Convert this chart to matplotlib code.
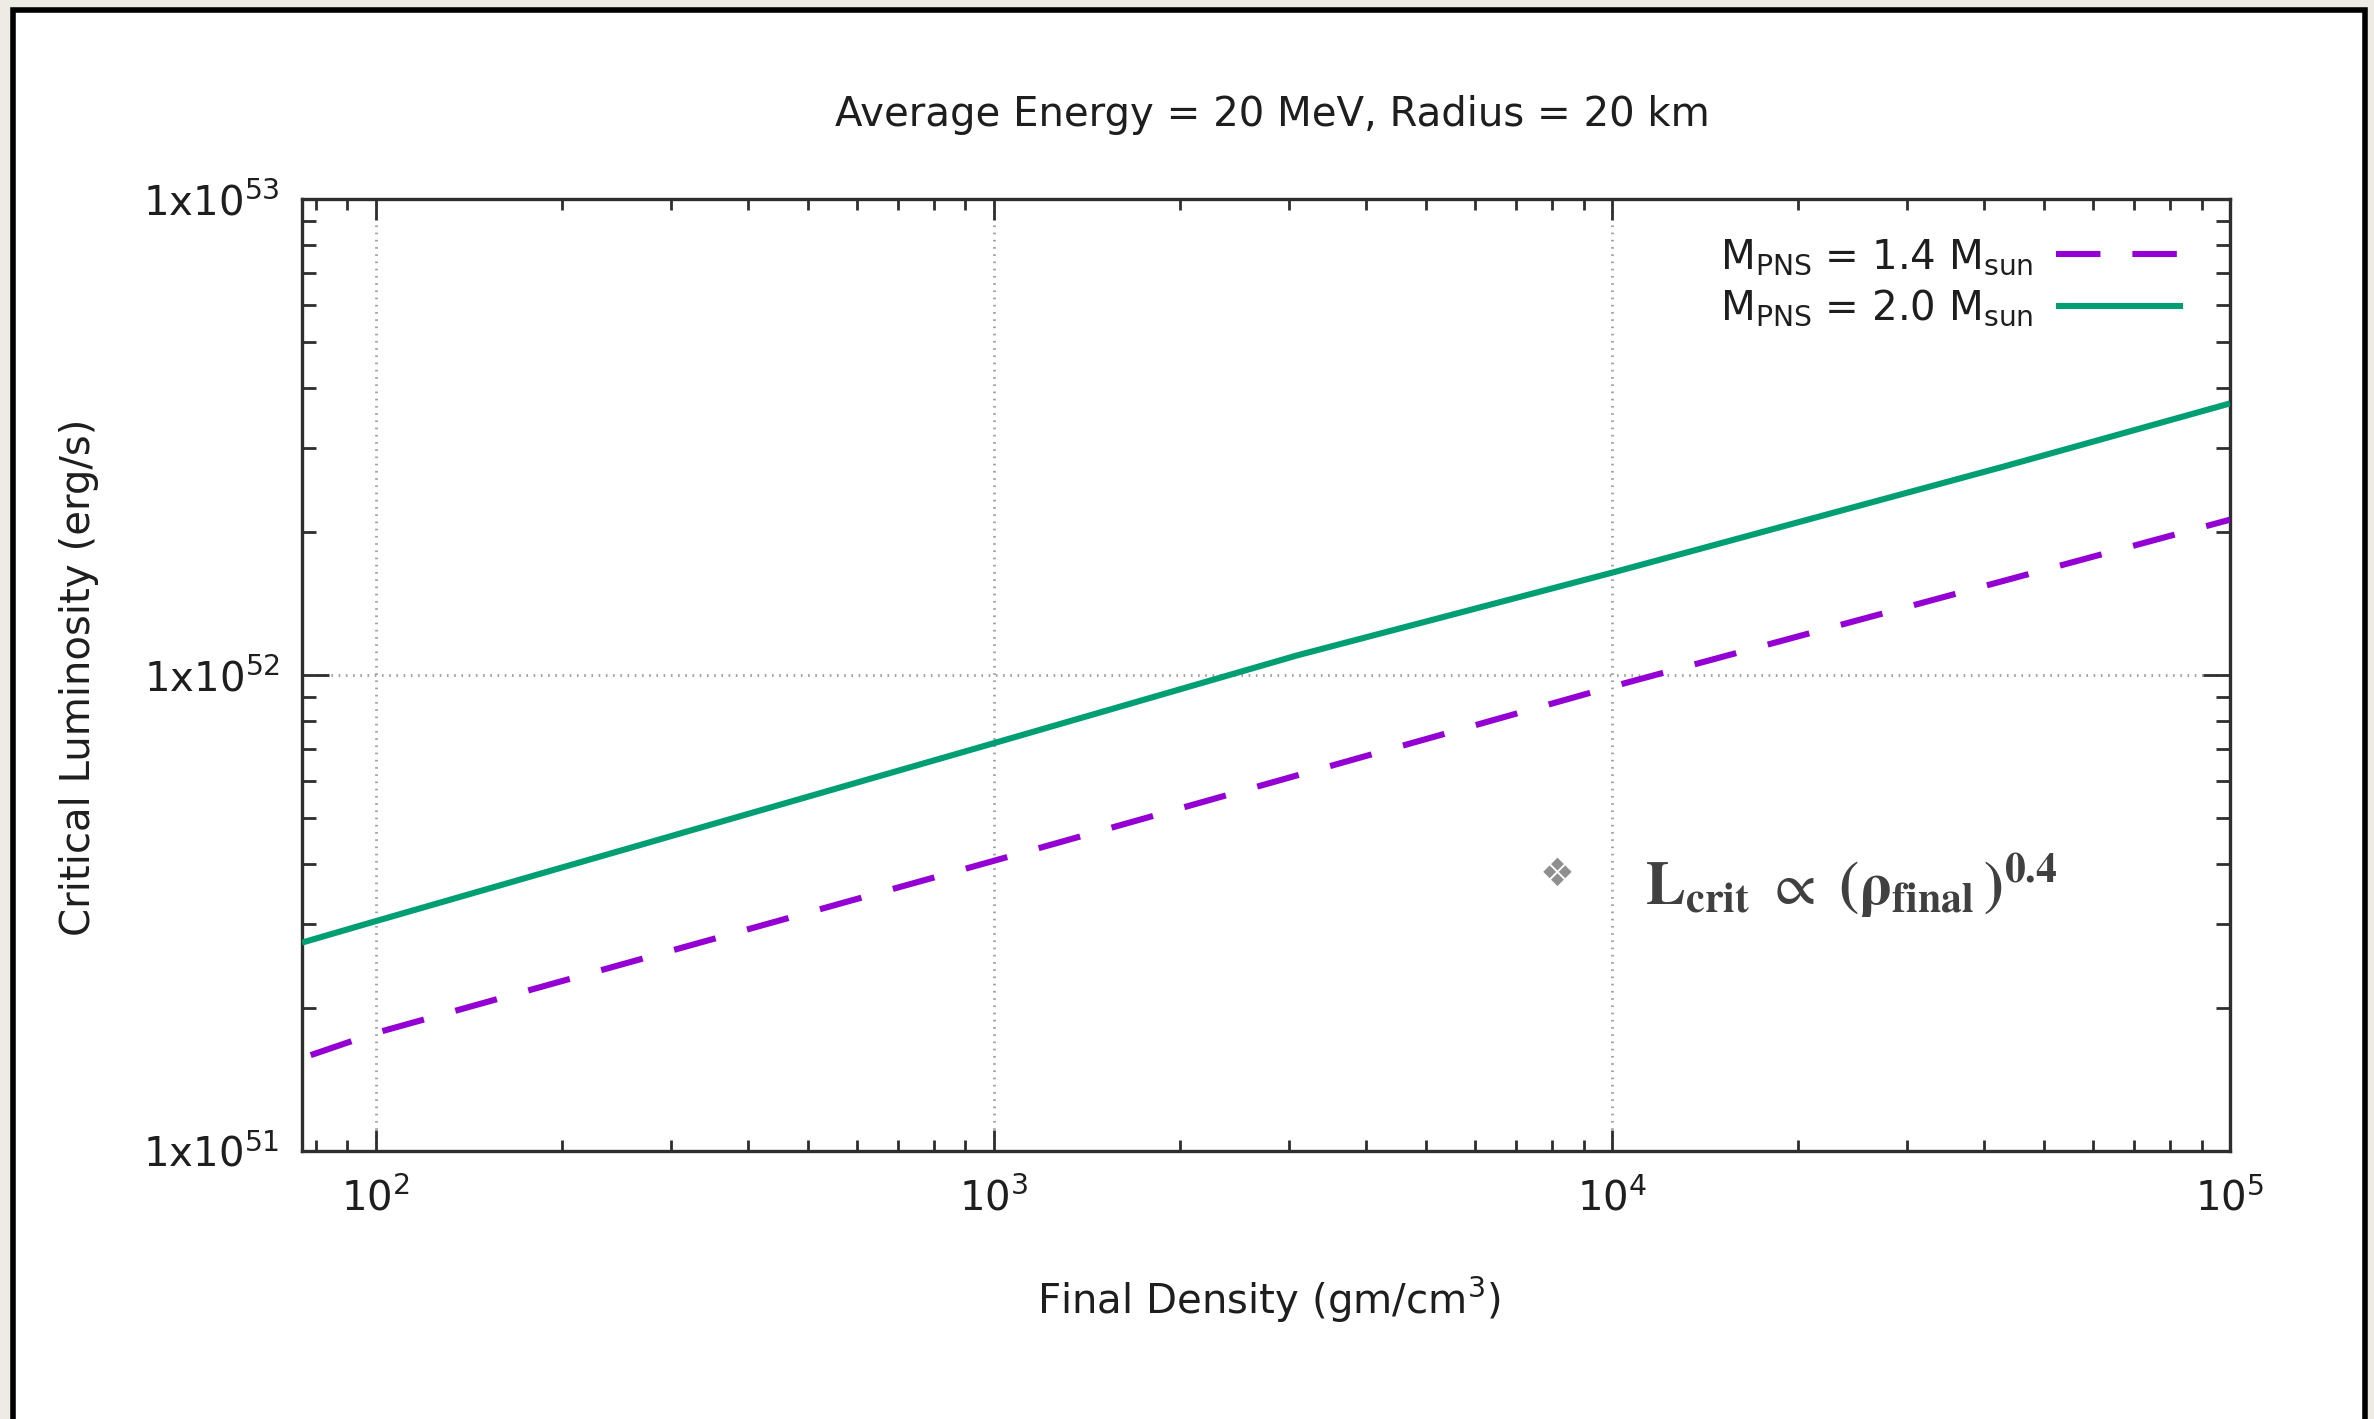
import matplotlib
matplotlib.use("Agg")
import matplotlib.pyplot as plt
from matplotlib.ticker import LogLocator, FuncFormatter, NullFormatter
from matplotlib.patches import Rectangle
from matplotlib.lines import Line2D
import numpy as np

# ---------------- data ----------------
density_14 = [78.5, 100, 1000, 10000, 100000]
lum_14 = [1.59e51, 1.77e51, 4.07e51, 9.45e51, 2.12e52]

density_20 = [76, 100, 1000, 3100, 10000, 43000, 100000]
lum_20 = [2.74e51, 3.04e51, 7.19e51, 1.10e52, 1.64e52, 2.74e52, 3.72e52]

label_14 = r"M$_\mathrm{PNS}$ = 1.4 M$_\mathrm{sun}$"
label_20 = r"M$_\mathrm{PNS}$ = 2.0 M$_\mathrm{sun}$"
title_text = "Average Energy = 20 MeV, Radius = 20 km"
xlabel_text = r"Final Density (gm/cm$^3$)"
ylabel_text = "Critical Luminosity (erg/s)"
annot_text = r"$\mathbf{L_{crit}}\ \propto\ \mathbf{(\rho_{final}\,)^{0.4}}$"

x_limits = (76, 1e5)
y_limits = (1e51, 1e53)

# ---------------- style ----------------
plt.rcParams["font.family"] = ["DejaVu Sans"]
plt.rcParams["mathtext.fontset"] = "dejavusans"
plt.rcParams["lines.scale_dashes"] = False

W, H = 2374, 1419
fig = plt.figure(figsize=(W / 100, H / 100), dpi=100, facecolor="#eeebe5")

# slide frame
frame = Rectangle((12.5 / W, -0.05), (2364.5 - 12.5) / W, 1 - 10 / H + 0.05,
                  transform=fig.transFigure, facecolor="white",
                  edgecolor="black", linewidth=4, zorder=-10)
fig.patches.append(frame)

ax = fig.add_axes([302 / W, 1 - 1151 / H, (2230 - 302) / W, (1151 - 199) / H])
ax.set_zorder(2)
ax.set_facecolor("white")
ax.set_xscale("log")
ax.set_yscale("log")
ax.set_xlim(*x_limits)
ax.set_ylim(*y_limits)

purple = "#9400d3"
green = "#009e73"
txt = "#1e1e1e"
fs = 29
lw = 4.4

ax.plot(density_14, lum_14, color=purple, lw=lw, dashes=(31, 23.5),
        dash_capstyle="butt", solid_capstyle="butt", zorder=3)
ax.plot(density_20, lum_20, color=green, lw=lw, solid_capstyle="butt", zorder=3)

# ticks
ax.xaxis.set_major_locator(LogLocator(base=10, numticks=10))
ax.xaxis.set_minor_locator(LogLocator(base=10, subs=np.arange(2, 10), numticks=20))
ax.yaxis.set_major_locator(LogLocator(base=10, numticks=10))
ax.yaxis.set_minor_locator(LogLocator(base=10, subs=np.arange(2, 10), numticks=20))
ax.xaxis.set_major_formatter(FuncFormatter(lambda v, p: r"10$^{%d}$" % round(np.log10(v))))
ax.yaxis.set_major_formatter(FuncFormatter(lambda v, p: r"1x10$^{%d}$" % round(np.log10(v))))
ax.xaxis.set_minor_formatter(NullFormatter())
ax.yaxis.set_minor_formatter(NullFormatter())

spine_col = "#2e2e2e"
for s in ax.spines.values():
    s.set_linewidth(2.4)
    s.set_color(spine_col)

ax.tick_params(axis="x", which="major", direction="in", length=15, width=2,
               top=True, bottom=True, pad=20, labelsize=fs, colors=spine_col,
               labelcolor=txt)
ax.tick_params(axis="x", which="minor", direction="in", length=8, width=2,
               top=True, bottom=True, colors=spine_col)
ax.tick_params(axis="y", which="major", direction="in", length=19.5, width=2,
               left=True, right=True, pad=16, labelsize=fs, colors=spine_col,
               labelcolor=txt)
ax.tick_params(axis="y", which="minor", direction="in", length=10, width=2,
               left=True, right=True, colors=spine_col)

ax.grid(which="major", color="#a0a0a0", linestyle=(0, (1.2, 4)), linewidth=2)
ax.set_axisbelow(True)

# legend
h14 = Line2D([], [], color=purple, lw=lw, dashes=(32, 23), dash_capstyle="butt")
h20 = Line2D([], [], color=green, lw=lw, solid_capstyle="butt")
leg = ax.legend([h14, h20], [label_14, label_20], loc="upper right",
                bbox_to_anchor=(0.9756, 0.960), frameon=False, markerfirst=False,
                handlelength=3.15, handletextpad=0.55, labelspacing=0.27,
                borderpad=0, borderaxespad=0, fontsize=fs)
for t in leg.get_texts():
    t.set_color(txt)

# titles and labels
fig.text(1272 / W, 1 - 115 / H, title_text, ha="center", va="center",
         fontsize=fs, color=txt)
fig.text(1269 / W, 1 - 1300 / H, xlabel_text, ha="center", va="center",
         fontsize=fs, color=txt)
fig.text(79 / W, 1 - 677 / H, ylabel_text, ha="center", va="center",
         rotation=90, fontsize=fs, color=txt)

# annotation
fig.text(1557 / W, 1 - 875 / H, "\u2756", ha="center", va="center",
         fontsize=28, color="#8f8f8f", family=["DejaVu Sans"])
fig.text(1645 / W, 1 - 905 / H, annot_text, ha="left", va="baseline",
         fontsize=43, color="#404040", math_fontfamily="stix")

fig.savefig("out.png", dpi=100, facecolor=fig.get_facecolor())
